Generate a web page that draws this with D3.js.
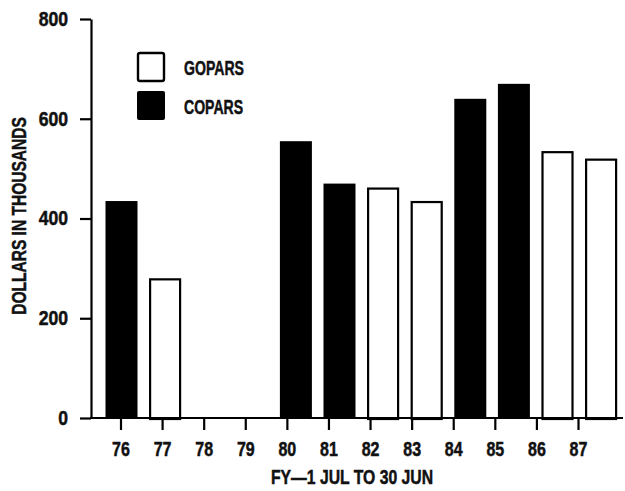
<!DOCTYPE html>
<html><head><meta charset="utf-8">
<script src="https://cdn.jsdelivr.net/npm/d3@7"></script>
<style>
body{margin:0;background:#fff}
text{font-family:"Liberation Sans",Arial,sans-serif;font-weight:bold;fill:#111;stroke:#111;stroke-width:0.5px}
</style>
</head><body>
<svg id="c" width="625" height="491"></svg>
<script>
const years = ["76","77","78","79","80","81","82","83","84","85","86","87"];
const seriesNames = ["GOPARS","COPARS"];
const gopars = [null,280,null,null,null,null,462,435,null,null,535,520];
const copars = [435,null,null,null,555,470,null,null,640,670,null,null];
const yTicks = [0,200,400,600,800];
const yTitle = "DOLLARS IN THOUSANDS";
const xTitle = "FY\u20141 JUL TO 30 JUN";

const svg = d3.select("#c");
const y = d3.scaleLinear().domain([0,800]).range([418,19]);
const xBar = d3.scaleBand().domain(years).range([99.7,622.9]).paddingInner(0.266).paddingOuter(0.133);
const xTick = d3.scalePoint().domain(years).range([120.5,578]);

function squeeze(sel, f){
  sel.each(function(){
    const w = this.getComputedTextLength();
    d3.select(this).attr("textLength", w*f).attr("lengthAdjust","spacingAndGlyphs");
  });
}

// bars
const bars = [];
years.forEach((yr,i)=>{
  if (gopars[i]!=null) bars.push({yr, v:gopars[i], s:"GOPARS"});
  if (copars[i]!=null) bars.push({yr, v:copars[i], s:"COPARS"});
});
svg.append("g").selectAll("rect").data(bars).join("rect")
  .attr("x", d=> d.s==="GOPARS" ? xBar(d.yr)+1 : xBar(d.yr))
  .attr("width", d=> d.s==="GOPARS" ? xBar.bandwidth()-2 : xBar.bandwidth())
  .attr("y", d=> d.s==="GOPARS" ? y(d.v)+1 : y(d.v))
  .attr("height", d=> y(0)-y(d.v))
  .attr("fill", d=> d.s==="GOPARS" ? "#fff" : "#000")
  .attr("stroke", d=> d.s==="GOPARS" ? "#000" : "none")
  .attr("stroke-width", 2.2);

// y axis
const ya = svg.append("g").attr("transform","translate(91,0)")
  .call(d3.axisLeft(y).tickValues(yTicks).tickSize(11).tickSizeOuter(0).tickPadding(12));
ya.select(".domain").attr("stroke","#000").attr("stroke-width",2.2);
ya.selectAll(".tick line").attr("stroke","#000").attr("stroke-width",2.2);
ya.selectAll(".tick text").attr("font-size",20).attr("font-family",null).attr("fill","#111")
  .call(squeeze, 0.88);

// x axis
const xa = svg.append("g").attr("transform",`translate(0,${y(0)})`)
  .call(d3.axisBottom(xTick).tickSize(12).tickPadding(12));
xa.select(".domain").remove();
xa.selectAll(".tick line").attr("stroke","#000").attr("stroke-width",2.2);
xa.selectAll(".tick text").attr("font-size",20).attr("font-family",null).attr("fill","#111")
  .call(squeeze, 0.8);
svg.append("line").attr("x1",90).attr("x2",623).attr("y1",y(0)).attr("y2",y(0))
  .attr("stroke","#000").attr("stroke-width",2.2);

// titles
svg.append("text").attr("transform","translate(26,216) rotate(-90)")
  .attr("text-anchor","middle").attr("font-size",21).text(yTitle).call(squeeze, 0.74);
svg.append("text").attr("x",352).attr("y",484)
  .attr("text-anchor","middle").attr("font-size",21).text(xTitle).call(squeeze, 0.75);

// legend
const leg = svg.append("g");
seriesNames.forEach((s,i)=>{
  const cy = 67 + i*39;
  if (s==="GOPARS") {
    leg.append("rect").attr("x",138).attr("y",cy-14).attr("width",26).attr("height",28)
      .attr("fill","#fff").attr("stroke","#000").attr("stroke-width",2.4).attr("rx",2);
  } else {
    leg.append("rect").attr("x",137).attr("y",cy-15).attr("width",28).attr("height",29)
      .attr("fill","#000").attr("rx",2);
  }
  leg.append("text").attr("x",184).attr("y",cy).attr("dy","0.36em")
    .attr("font-size",21).text(s).call(squeeze, 0.67);
});
</script>
</body></html>
